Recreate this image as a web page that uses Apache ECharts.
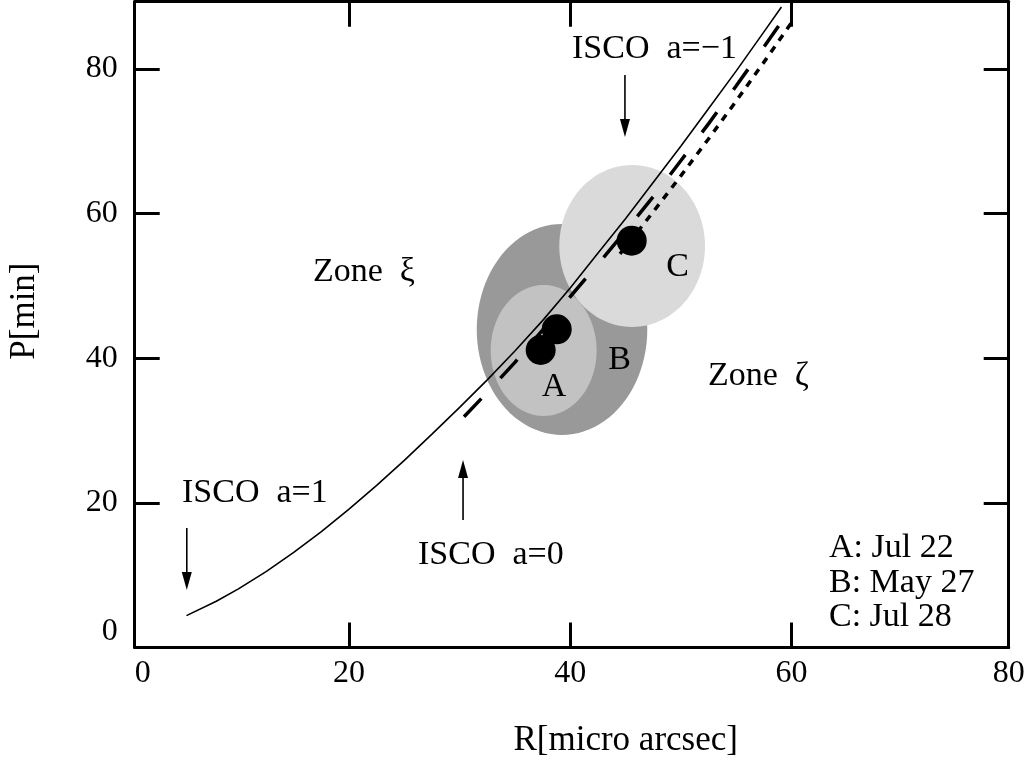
<!DOCTYPE html>
<html><head><meta charset="utf-8">
<script src="https://cdn.jsdelivr.net/npm/echarts@6/dist/echarts.min.js"></script>
<style>html,body{margin:0;padding:0;background:#fff}#c{width:1025px;height:765px}</style>
</head><body><div id="c"></div>
<script>
// ---- axis ranges / ticks ----
const X_MIN = 0.62, X_MAX = 79.65, Y_MIN = 0, Y_MAX = 89.3;
const xTickValues = [20, 40, 60];
const xLabelValues = [X_MIN, 20, 40, 60, X_MAX];
const xTickLabels = ['0', '20', '40', '60', '80'];
const yTickValues = [20, 40, 60, 80];
const yLabelValues = [0, 20, 40, 60, 80];
const yTickLabels = ['0', '20', '40', '60', '80'];

// ---- curves ----
const solidR = [5.3, 8, 10, 12.5, 15, 17.5, 20, 22.5, 25, 27.5, 30, 32.5, 35, 37.5, 40, 42.5, 45, 47.5, 50, 52.5, 55, 57.5, 59.1];
const solidP = [4.41, 6.40, 8.11, 10.50, 13.15, 16.03, 19.12, 22.41, 25.88, 29.50, 33.2, 37.0, 41.0, 45.2, 49.7, 54.5, 59.3, 64.3, 69.3, 74.5, 79.7, 85.09, 88.57];
const dashR = [30.4, 32.5, 35, 37.5, 40, 42.5, 45, 47.5, 50, 52.5, 55, 57.5, 59.5];
const dashP = [31.91, 35.27, 39.42, 43.9, 48.5, 53.0, 57.6, 62.32, 67.30, 72.41, 77.64, 83.00, 87.36];
const dotR = [44.5, 45, 47.5, 50, 52.5, 55, 57.5, 60];
const dotP = [54.42, 55.37, 60.23, 65.21, 70.32, 75.55, 80.91, 86.38];

// ---- observation points ----
const pointNames = ['A', 'B', 'C'];
const pointR = [37.33, 38.78, 45.56];
const pointP = [41.14, 44.0, 56.26];

// ---- error ellipses (centre, half-widths) ----
const ellipseNames = ['B', 'A', 'C'];
const ellipseR = [39.26, 37.6, 45.6];
const ellipseP = [43.98, 41.07, 55.52];
const ellipseHalfR = [7.71, 4.79, 6.59];
const ellipseHalfP = [14.59, 9.06, 11.2];
const ellipseColors = ['#999999', '#c2c2c2', '#dadada'];

// ---- annotations ----
const noteTexts = ['ISCO  a=\u22121', 'ISCO  a=1', 'ISCO  a=0', 'Zone  \u03be', 'Zone  \u03b6', 'A', 'B', 'C', 'A: Jul 22', 'B: May 27', 'C: Jul 28'];
const noteR = [40.16, 4.9, 26.24, 16.74, 52.46, 38.54, 44.46, 49.7, 63.4, 63.4, 63.4];
const noteP = [82.8, 21.4, 12.8, 51.93, 37.5, 35.96, 39.76, 52.66, 13.76, 8.92, 4.22];
const noteAlign = ['left', 'left', 'left', 'left', 'left', 'center', 'center', 'center', 'left', 'left', 'left'];

// ---- arrows ----
const arrowR = [44.95, 5.33, 30.31];
const arrowFromP = [79.17, 16.53, 17.63];
const arrowToP = [70.6, 7.95, 25.93];

const FONT = '"Liberation Serif", "DejaVu Serif", serif';
const zip = (a, b) => a.map((v, i) => [v, b[i]]);

const chart = echarts.init(document.getElementById('c'));

function axisCommon(pos, showLabel, tickVals, labelVals, labels) {
  return {
    type: 'value', position: pos,
    axisLine: { show: true, onZero: false, lineStyle: { color: '#000', width: 3 } },
    axisTick: { show: true, inside: true, length: 25, customValues: tickVals, lineStyle: { color: '#000', width: 3 } },
    axisLabel: showLabel ? {
      show: true, customValues: labelVals, color: '#000', fontSize: 32, fontFamily: FONT,
      formatter: v => labels[labelVals.findIndex(x => Math.abs(x - v) < 1e-6)] ?? String(v)
    } : { show: false },
    splitLine: { show: false }
  };
}

const xBottom = Object.assign(axisCommon('bottom', true, xTickValues, xLabelValues, xTickLabels), {
  min: X_MIN, max: X_MAX,
  name: 'R[micro arcsec]', nameLocation: 'middle', nameGap: 76, nameMoveOverlap: false,
  nameTextStyle: { fontSize: 35, fontFamily: FONT, color: '#000', padding: [0, 0, 0, 108] }
});
xBottom.axisLabel.margin = 10;
xBottom.axisLabel.alignMinLabel = 'left';
const xTop = Object.assign(axisCommon('top', false, xTickValues), { min: X_MIN, max: X_MAX });
const yLeft = Object.assign(axisCommon('left', true, yTickValues, yLabelValues, yTickLabels), {
  min: Y_MIN, max: Y_MAX,
  name: 'P[min]', nameLocation: 'middle', nameGap: 92, nameRotate: 90, nameMoveOverlap: false,
  nameTextStyle: { fontSize: 35, fontFamily: FONT, color: '#000', padding: [0, 0, 0, 27] }
});
yLeft.axisLabel.margin = 17;
yLeft.axisLabel.verticalAlignMinLabel = 'bottom';
const yRight = Object.assign(axisCommon('right', false, yTickValues), { min: Y_MIN, max: Y_MAX });

chart.setOption({
  animation: false,
  backgroundColor: '#fff',
  grid: { left: 134.7, right: 16.3, top: 1.7, bottom: 117.5, containLabel: false, outerBoundsMode: 'none' },
  xAxis: [xBottom, xTop],
  yAxis: [yLeft, yRight],
  series: [
    {
      type: 'custom', name: 'ellipses', z: 1, xAxisIndex: 0, yAxisIndex: 0,
      data: ellipseNames.map((n, i) => [ellipseR[i], ellipseP[i], ellipseHalfR[i], ellipseHalfP[i]]),
      encode: { x: 0, y: 1 },
      renderItem: (params, api) => {
        const c = api.coord([api.value(0), api.value(1)]);
        const s = api.size([api.value(2), api.value(3)]);
        const pts = [];
        for (let k = 0; k < 96; k++) {
          const t = k / 96 * Math.PI * 2;
          pts.push([c[0] + s[0] * Math.cos(t), c[1] + s[1] * Math.sin(t)]);
        }
        return { type: 'polygon', shape: { points: pts }, style: { fill: ellipseColors[params.dataIndex], stroke: null } };
      }
    },
    {
      type: 'line', name: 'ISCO a=1', z: 3, data: zip(solidR, solidP), showSymbol: false, symbol: 'none',
      lineStyle: { color: '#000', width: 1.6 }
    },
    {
      type: 'line', name: 'ISCO a=0', z: 3, data: zip(dashR, dashP), showSymbol: false, symbol: 'none',
      lineStyle: { color: '#000', width: 3.5, type: [25, 28], cap: 'butt' }
    },
    {
      type: 'line', name: 'ISCO a=-1', z: 3, data: zip(dotR, dotP), showSymbol: false, symbol: 'none',
      lineStyle: { color: '#000', width: 3.5, type: [7, 7], cap: 'butt' }
    },
    {
      type: 'scatter', name: 'points', z: 5, data: zip(pointR, pointP), symbol: 'circle', symbolSize: 30,
      itemStyle: { color: '#000', opacity: 1 }, emphasis: { disabled: true }
    },
    {
      type: 'custom', name: 'arrows', z: 4,
      data: arrowR.map((r, i) => [r, arrowFromP[i], arrowToP[i]]),
      encode: { x: 0, y: [1, 2] },
      renderItem: (params, api) => {
        const a = api.coord([api.value(0), api.value(1)]);
        const b = api.coord([api.value(0), api.value(2)]);
        const dir = b[1] > a[1] ? 1 : -1;
        const hl = 18, hw = 5;
        return {
          type: 'group', children: [
            { type: 'line', shape: { x1: a[0], y1: a[1], x2: b[0], y2: b[1] - dir * hl + dir * 2 }, style: { stroke: '#000', lineWidth: 1.6 } },
            { type: 'polygon', shape: { points: [[b[0], b[1]], [b[0] - hw, b[1] - dir * hl], [b[0] + hw, b[1] - dir * hl]] }, style: { fill: '#000' } }
          ]
        };
      }
    },
    {
      type: 'custom', name: 'notes', z: 6,
      data: noteTexts.map((t, i) => [noteR[i], noteP[i]]),
      encode: { x: 0, y: 1 },
      renderItem: (params, api) => {
        const c = api.coord([api.value(0), api.value(1)]);
        return {
          type: 'text', x: c[0], y: c[1],
          style: {
            text: noteTexts[params.dataIndex], fill: '#000', fontSize: 34, fontFamily: FONT,
            align: noteAlign[params.dataIndex], verticalAlign: 'middle'
          }
        };
      }
    }
  ]
});
</script></body></html>
